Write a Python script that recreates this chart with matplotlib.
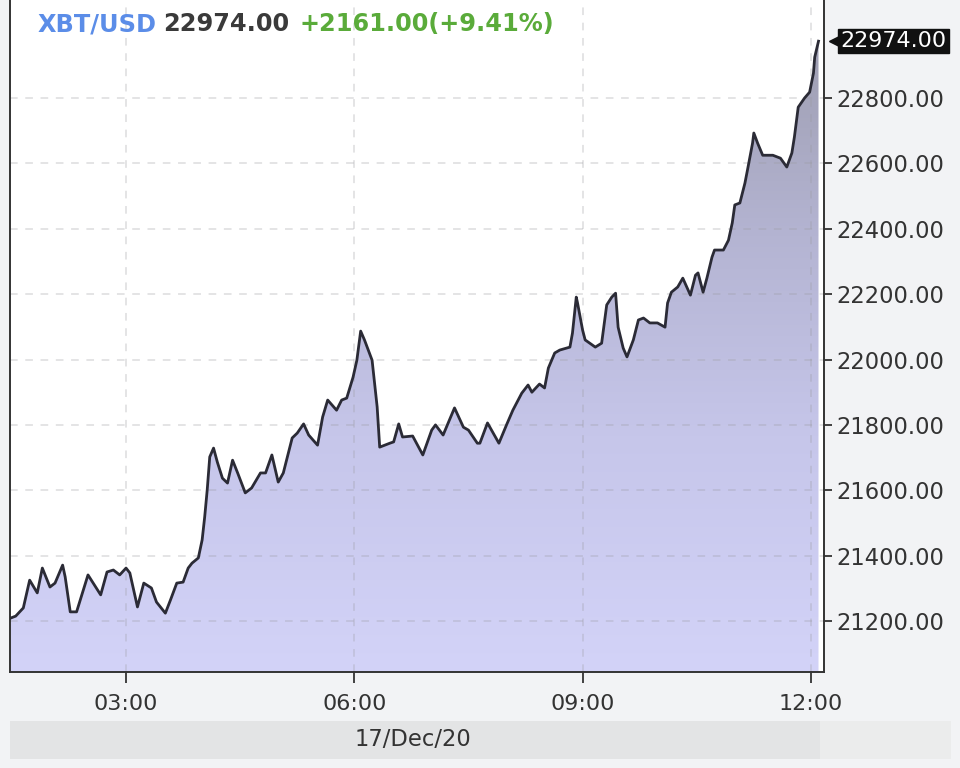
import matplotlib
matplotlib.use("Agg")
import matplotlib.pyplot as plt
import matplotlib.dates as mdates
from matplotlib.colors import LinearSegmentedColormap
from matplotlib.patches import Polygon, Rectangle
from matplotlib import transforms
import numpy as np
import pandas as pd

# XBT/USD price on 17 Dec 2020
times = [
    "01:29", "01:33", "01:39", "01:44", "01:50", "01:54", "02:00", "02:04", "02:10", "02:12",
    "02:16", "02:21", "02:30", "02:40", "02:45", "02:50", "02:55", "03:00", "03:03", "03:09",
    "03:14", "03:20", "03:24", "03:31", "03:35", "03:40", "03:45", "03:49", "03:52", "03:57",
    "04:00", "04:02", "04:04", "04:06", "04:09", "04:12", "04:16", "04:20", "04:24", "04:28",
    "04:34", "04:39", "04:46", "04:50", "04:55", "05:00", "05:04", "05:11", "05:15", "05:20",
    "05:24", "05:31", "05:35", "05:39", "05:46", "05:50", "05:54", "05:59", "06:02", "06:05",
    "06:08", "06:14", "06:18", "06:20", "06:28", "06:31", "06:35", "06:38", "06:46", "06:54",
    "07:01", "07:04", "07:10", "07:19", "07:26", "07:30", "07:37", "07:39", "07:45", "07:54",
    "08:00", "08:05", "08:12", "08:17", "08:20", "08:26", "08:30", "08:33", "08:38", "08:42",
    "08:50", "08:52", "08:55", "08:56", "09:00", "09:02", "09:10", "09:15", "09:19", "09:23",
    "09:26", "09:28", "09:32", "09:35", "09:40", "09:44", "09:48", "09:53", "09:59", "10:05",
    "10:07", "10:10", "10:15", "10:19", "10:25", "10:29", "10:31", "10:35", "10:38", "10:42",
    "10:44", "10:51", "10:55", "10:58", "11:00", "11:04", "11:08", "11:10", "11:14", "11:15",
    "11:18", "11:22", "11:30", "11:36", "11:41", "11:45", "11:47", "11:50", "11:55", "11:59",
    "12:02", "12:03", "12:06",
]
prices = [
    21209, 21215, 21240, 21325, 21286, 21362, 21304, 21316, 21371, 21335,
    21228, 21228, 21341, 21280, 21350, 21356, 21341, 21362, 21347, 21243,
    21316, 21301, 21258, 21224, 21264, 21316, 21319, 21362, 21377, 21393,
    21448, 21518, 21601, 21702, 21729, 21686, 21637, 21622, 21692, 21653,
    21592, 21607, 21653, 21653, 21708, 21625, 21653, 21760, 21775, 21803,
    21769, 21738, 21824, 21876, 21845, 21876, 21882, 21946, 21998, 22087,
    22060, 21998, 21855, 21732, 21744, 21748, 21803, 21763, 21766, 21708,
    21784, 21800, 21769, 21852, 21793, 21784, 21744, 21744, 21806, 21744,
    21800, 21845, 21897, 21922, 21900, 21925, 21913, 21974, 22020, 22029,
    22038, 22081, 22191, 22173, 22090, 22060, 22038, 22050, 22167, 22191,
    22203, 22099, 22035, 22008, 22060, 22121, 22127, 22112, 22112, 22099,
    22173, 22206, 22222, 22249, 22197, 22258, 22265, 22206, 22249, 22313,
    22335, 22335, 22365, 22418, 22473, 22479, 22540, 22580, 22662, 22693,
    22662, 22625, 22625, 22616, 22589, 22632, 22681, 22772, 22800, 22818,
    22876, 22925, 22974,
]
y_ticks = [21200, 21400, 21600, 21800, 22000, 22200, 22400, 22600, 22800]
x_ticks = ["03:00", "06:00", "09:00", "12:00"]
last_price = 22974.00
change = 2161.00
change_pct = 9.41
day = "2020-12-17"

t = mdates.date2num(pd.to_datetime([day + " " + s for s in times]))
p = np.array(prices, dtype=float)

fig = plt.figure(figsize=(9.6, 7.68), dpi=100)
fig.patch.set_facecolor("#f2f3f5")
ax = fig.add_axes([10 / 960, 96 / 768, 814 / 960, 672 / 768])
ax.set_facecolor("white")

x0 = mdates.date2num(pd.Timestamp(day + " 01:28:30"))
x1 = mdates.date2num(pd.Timestamp(day + " 12:10:20"))
ymin, ymax = 21044, 23100
ax.set_xlim(x0, x1)
ax.set_ylim(ymin, ymax)

# gradient fill under the line
cmap = LinearSegmentedColormap.from_list(
    "fill", [(0.0, "#9a9aab"), (0.35, "#b4b4d2"), (0.65, "#c6c6ea"), (1.0, "#d3d3f8")])
grad = np.linspace(0, 1, 256).reshape(-1, 1)
im = ax.imshow(grad, cmap=cmap, aspect="auto", extent=[x0, x1, ymin, ymax],
               origin="upper", zorder=1)
poly = Polygon(np.column_stack([np.r_[t, t[-1], t[0]], np.r_[p, ymin, ymin]]),
               closed=True, facecolor="none", edgecolor="none")
ax.add_patch(poly)
im.set_clip_path(poly)

ax.plot(t, p, color="#2b2b36", lw=2.0, zorder=3)

# grid
tick_nums = mdates.date2num(pd.to_datetime([day + " " + s for s in x_ticks]))
for v in y_ticks:
    ax.axhline(v, color="#9a9aa0", alpha=0.35, lw=1.1, ls=(0, (5, 5)), zorder=2)
for v in tick_nums:
    ax.axvline(v, color="#9a9aa0", alpha=0.35, lw=1.1, ls=(0, (5, 5)), zorder=2)

ax.set_xticks(tick_nums)
ax.set_xticklabels(x_ticks)
ax.set_yticks(y_ticks)
ax.set_yticklabels([f"{v:.2f}" for v in y_ticks])
ax.yaxis.tick_right()
ax.tick_params(axis="y", direction="out", length=6, width=1.3, color="#333333",
               labelsize=16.3, labelcolor="#333333", pad=3)
ax.tick_params(axis="x", direction="out", length=8, width=1.3, color="#333333",
               labelsize=16, labelcolor="#333333", pad=8)

for side in ["left", "right", "bottom"]:
    ax.spines[side].set_color("#333333")
    ax.spines[side].set_linewidth(1.4)
ax.spines["top"].set_visible(False)

# last price tag on the right axis
ax.annotate(f"{last_price:.2f}", xy=(1, last_price), xycoords=("axes fraction", "data"),
            xytext=(12, 0), textcoords="offset points", ha="left", va="center",
            fontsize=16, color="white", zorder=6, annotation_clip=False,
            bbox=dict(boxstyle="square,pad=0.1", fc="#111111", ec="#111111"))
tri = transforms.offset_copy(ax.get_yaxis_transform(), fig=fig, x=8, y=0, units="points")
ax.plot([1], [last_price], marker="<", ms=8, color="#111111", transform=tri,
        clip_on=False, zorder=6)

# header
ty = 1 - 24 / 768
fig.text(38 / 960, ty, "XBT/USD", color="#5b8de8", fontsize=17.3, fontweight="bold", va="center")
fig.text(163 / 960, ty, f"{last_price:.2f}", color="#3a3a3a", fontsize=17.3,
         fontweight="bold", va="center")
fig.text(300 / 960, ty, f"+{change:.2f}(+{change_pct:.2f}%)", color="#5aab3a",
         fontsize=17.3, fontweight="bold", va="center")

# date band
fig.patches.append(Rectangle((10 / 960, 1 - 759 / 768), 810 / 960, 38 / 768,
                             transform=fig.transFigure, fc="#e3e4e5", ec="none"))
fig.patches.append(Rectangle((820 / 960, 1 - 759 / 768), 131 / 960, 38 / 768,
                             transform=fig.transFigure, fc="#ebecec", ec="none"))
fig.text(413 / 960, 1 - 740 / 768, "17/Dec/20", color="#333333", fontsize=16.3,
         ha="center", va="center")

fig.savefig("out.png", dpi=100, facecolor=fig.get_facecolor())
